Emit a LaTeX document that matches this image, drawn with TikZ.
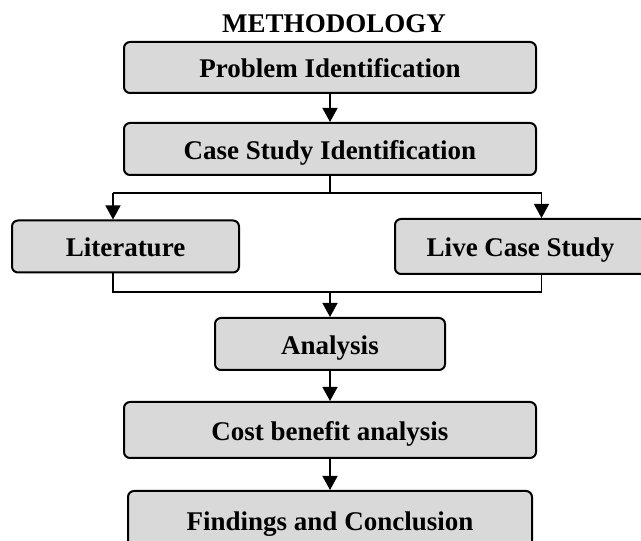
\documentclass[tikz,border=0pt]{standalone}
\usepackage{fontspec}
\setmainfont{Liberation Serif}
\usetikzlibrary{positioning, arrows.meta}
\definecolor{boxgray}{RGB}{217,217,217}

\tikzset{
    stepbox/.style={draw, line width=2pt, fill=boxgray, rounded corners=6pt,
        inner sep=0pt, minimum height=52pt, text height=21pt, text depth=0pt,
        font=\fontsize{27}{31}\selectfont\bfseries},
    link/.style={line width=1.3pt},
    arr/.style={link, -{Triangle[width=15pt, length=14pt]}}
}

\begin{document}
\begin{tikzpicture}[x=1pt, y=1pt]
        \useasboundingbox (0,0) rectangle (641,541);
        \node[anchor=base, font=\fontsize{27}{31}\selectfont\bfseries] (title) at (334,508) {METHODOLOGY};
        \node[stepbox, minimum width=412pt, minimum height=51pt] (prob) at (330,473.5) {Problem Identification};
        \node[stepbox, minimum width=412pt, below=28pt of prob] (case) {Case Study Identification};
        \node[stepbox, minimum width=227pt] (lit) at (125.5,294.5) {Literature};
        \node[stepbox, minimum width=251pt, minimum height=55pt] (live) at (520.5,294.5) {Live Case Study};
        \node[stepbox, minimum width=230pt] (ana) at (330,197) {Analysis};
        \node[stepbox, minimum width=412pt, minimum height=56pt, below=30pt of ana] (cost) {Cost benefit analysis};
        \node[stepbox, minimum width=404pt, minimum height=58pt, below=31pt of cost] (find) {Findings and Conclusion};
        % split and join points
        \coordinate (split) at (330,348);
        \coordinate (la) at (113,348);
        \coordinate (ra) at (541.5,348);
        \coordinate (join) at (330,249);
        \coordinate (lb) at (113,249);
        \coordinate (rb) at (541.5,249);
        \draw[arr] (prob) -- (case);
        \draw[link] (case) -- (split);
        \draw[link] (la) -- (ra);
        \draw[arr] (la) -- (la |- lit.north);
        \draw[arr] (ra) -- (ra |- live.north);
        \draw[link] (lit.south -| lb) -- (lb) -- (rb) -- (live.south -| rb);
        \draw[arr] (join) -- (ana);
        \draw[arr] (ana) -- (cost);
        \draw[arr] (cost) -- (find);
    \end{tikzpicture}
\end{document}
